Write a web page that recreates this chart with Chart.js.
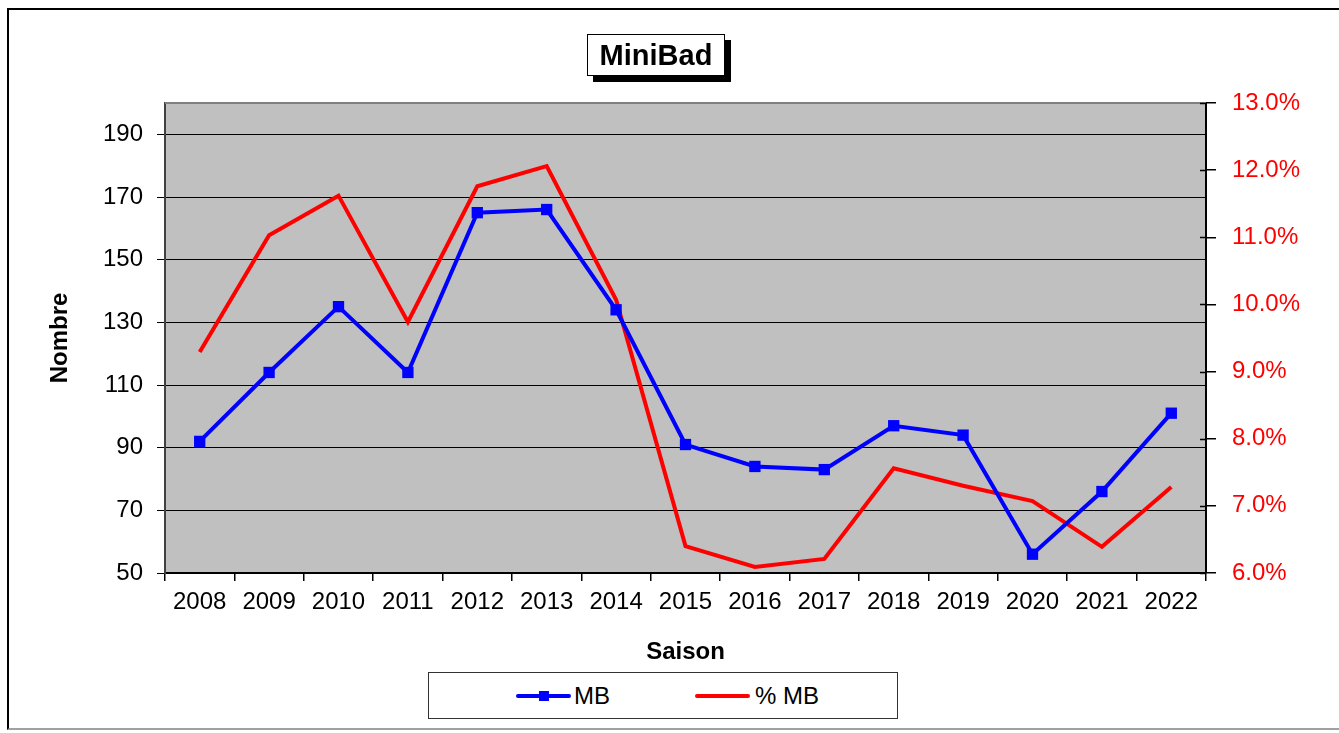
<!DOCTYPE html>
<html>
<head>
<meta charset="utf-8">
<script src="https://cdn.jsdelivr.net/npm/chart.js@4.4.1/dist/chart.umd.min.js"></script>
<style>
  body { margin: 0; background: #fff; font-family: "Liberation Sans", Arial, sans-serif; }
  #wrap { position: relative; width: 1339px; height: 733px; overflow: hidden; }
  #cadre { position: absolute; left: 7px; top: 8px; width: 1340px; height: 722px;
           border-left: 2px solid #000; border-top: 2px solid #000; border-bottom: 2px solid #a0a0a0; box-sizing: border-box; }
  #titre { position: absolute; left: 587px; top: 34px; width: 136px; height: 40px; border: 1px solid #000;
           background: #fff; box-shadow: 6px 6px 0 #000; font-weight: bold; font-size: 29px;
           text-align: center; line-height: 40px; }
  #legende { position: absolute; left: 428px; top: 672px; width: 470px; height: 47px; border: 1px solid #333;
             box-sizing: border-box; background: #fff; font-size: 24px; }
  .trait { position: absolute; top: 21px; height: 4px; width: 55px; border-radius: 2px; }
  .carre { position: absolute; top: 18px; width: 10px; height: 10px; background: #0000ff; }
  .lib { position: absolute; top: 8px; line-height: 30px; }
  canvas { position: absolute; left: 0; top: 0; }
</style>
</head>
<body>
<div id="wrap">
  <div id="cadre"></div>
  <canvas id="graphique" width="1339" height="733"></canvas>
  <div id="titre">MiniBad</div>
  <div id="legende">
    <span class="trait" style="left:87px;background:#0000ff"></span>
    <span class="carre" style="left:110px"></span>
    <span class="lib" style="left:145px">MB</span>
    <span class="trait" style="left:266px;background:#ff0000"></span>
    <span class="lib" style="left:326px">% MB</span>
  </div>
</div>
<script>
// Saisons et valeurs
const saisons = ['2008', '2009', '2010', '2011', '2012', '2013', '2014', '2015',
                 '2016', '2017', '2018', '2019', '2020', '2021', '2022'];
const nombreMB = [92, 114, 135, 114, 165, 166, 134, 91, 84, 83, 97, 94, 56, 76, 101];
const pourcentMB = [9.29, 11.03, 11.62, 9.74, 11.76, 12.06, 10.07, 6.40, 6.09, 6.21, 7.56, 7.30, 7.07, 6.39, 7.28];
const graduationsNombre = [50, 70, 90, 110, 130, 150, 170, 190];

const police = { family: '"Liberation Sans", Arial, sans-serif', size: 24 };

// fond gris + bordures de la zone de tracé
const fondZone = {
    id: 'fondZone',
    beforeDraw(chart) {
        const { ctx, chartArea: a } = chart;
        ctx.save();
        ctx.fillStyle = '#c0c0c0';
        ctx.fillRect(a.left, a.top, a.right - a.left, a.bottom - a.top);
        ctx.restore();
    },
    afterDatasetsDraw(chart) {
        const { ctx, chartArea: a } = chart;
        ctx.save();
        ctx.strokeStyle = '#808080';
        ctx.lineWidth = 2;
        ctx.beginPath();
        ctx.moveTo(a.left, a.top);
        ctx.lineTo(a.right, a.top);
        ctx.stroke();
        // petits traits des graduations de droite qui traversent l'axe
        const yR = chart.scales.yR;
        ctx.strokeStyle = '#000';
        ctx.lineWidth = 1.5;
        yR.ticks.forEach(t => {
            const y = Math.round(yR.getPixelForValue(t.value)) + 0.5;
            ctx.beginPath();
            ctx.moveTo(a.right - 6, y);
            ctx.lineTo(a.right, y);
            ctx.stroke();
        });
        ctx.restore();
    }
};

const ctx = document.getElementById('graphique').getContext('2d');
new Chart(ctx, {
    type: 'line',
    data: {
        labels: saisons,
        datasets: [
            {
                label: 'MB',
                data: nombreMB,
                yAxisID: 'yL',
                borderColor: '#0000ff',
                backgroundColor: '#0000ff',
                borderWidth: 4,
                pointStyle: 'rect',
                pointRadius: 8,
                pointBorderWidth: 0,
                tension: 0,
                order: 1
            },
            {
                label: '% MB',
                data: pourcentMB,
                yAxisID: 'yR',
                borderColor: '#ff0000',
                backgroundColor: '#ff0000',
                borderWidth: 4,
                pointRadius: 0,
                tension: 0,
                order: 2
            }
        ]
    },
    options: {
        responsive: false,
        animation: false,
        events: [],
        layout: { padding: { left: 30, top: 103, right: 0, bottom: 58 } },
        plugins: {
            legend: { display: false },
            title: { display: false },
            tooltip: { enabled: false }
        },
        scales: {
            x: {
                offset: true,
                grid: { offset: true, drawOnChartArea: false, color: '#000', tickLength: 8, lineWidth: 1.5 },
                border: { color: '#000', width: 2 },
                ticks: { color: '#000', font: police, padding: 7, maxRotation: 0, autoSkip: false },
                title: { display: true, text: 'Saison', color: '#000', font: { ...police, weight: 'bold' }, padding: { top: 0, bottom: 8 } },
                afterFit(scale) { scale.height = 102; }
            },
            yL: {
                position: 'left',
                min: 50,
                max: 200,
                ticks: { color: '#000', font: police, padding: 14 },
                afterBuildTicks(scale) { scale.ticks = graduationsNombre.map(v => ({ value: v })); },
                grid: { color: '#000', lineWidth: 1, tickLength: 8 },
                border: { color: '#404040', width: 2 },
                title: { display: true, text: 'Nombre', color: '#000', font: { ...police, weight: 'bold' }, padding: { top: 16, bottom: 0 } },
                afterFit(scale) { scale.width = 135; }
            },
            yR: {
                position: 'right',
                min: 6,
                max: 13,
                ticks: { stepSize: 1, color: '#ff0000', font: police, padding: 16,
                         callback: v => v.toFixed(1) + '%' },
                grid: { drawOnChartArea: false, color: '#000', lineWidth: 1.5, tickLength: 10 },
                border: { color: '#000', width: 2 },
                afterFit(scale) { scale.width = 133; }
            }
        }
    },
    plugins: [fondZone]
});
</script>
</body>
</html>
